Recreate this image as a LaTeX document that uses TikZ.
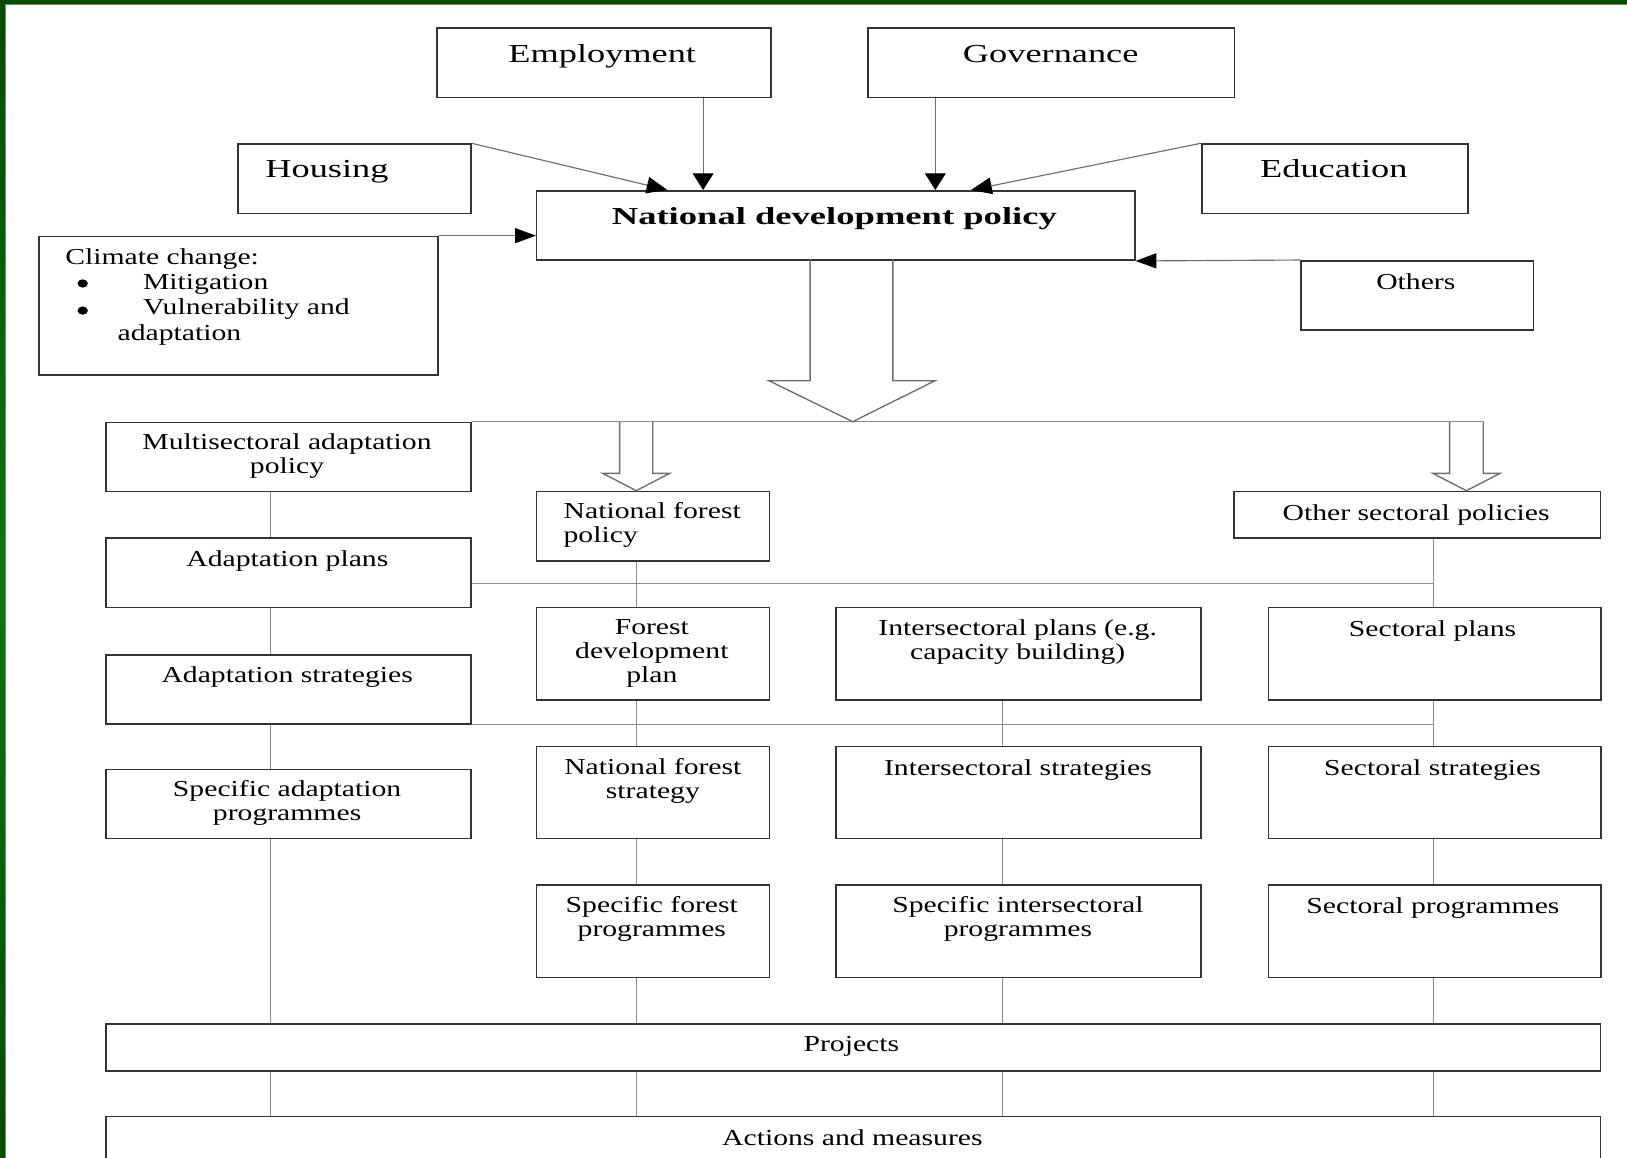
\documentclass[tikz,border=0pt]{standalone}
\usepackage{fontspec}
\setmainfont{Liberation Serif}
\newfontfamily\normf{Liberation Serif}[FakeStretch=1.3]
\newfontfamily\bigf{Liberation Serif}[FakeStretch=1.4]
\newfontfamily\ndpf{Liberation Serif}[FakeStretch=1.5]
\usetikzlibrary{arrows.meta}
\definecolor{boxc}{HTML}{333333}
\definecolor{connc}{HTML}{8C8C8C}
\definecolor{arrc}{HTML}{6E6E6E}
\definecolor{gdark}{HTML}{004D00}
\definecolor{gmid}{HTML}{0A7A0A}
\begin{document}
\begin{tikzpicture}[x=1pt,y=-1pt,
  box/.style={draw=boxc, line width=1.6pt, inner sep=0pt, anchor=north west, fill=white},
  txt/.style={inner sep=0pt, anchor=north, align=center, text=black,
    font=\normf\fontsize{22}{23.5}\selectfont, execute at begin node=\strut},
  bigtxt/.style={txt, font=\bigf\fontsize{25}{27}\selectfont},
  ndptxt/.style={txt, font=\ndpf\bfseries\fontsize{23.5}{25}\selectfont},
  bulletdot/.style={fill=black},
  conn/.style={draw=connc, line width=1.4pt},
  hollow/.style={draw=arrc, line width=1.3pt, line join=miter},
  arrV/.style={draw=arrc, line width=1.1pt, -{Triangle[length=16pt,width=20pt,color=black]}},
  arrD/.style={draw=arrc, line width=1.1pt, -{Triangle[length=20pt,width=16pt,color=black]}},
  arrH/.style={draw=arrc, line width=1.1pt, -{Triangle[length=20pt,width=14.5pt,color=black]}}
]
\useasboundingbox (0,0) rectangle (1568,1116);
\clip (0,0) rectangle (1568,1116);
\fill[white] (0,0) rectangle (1568,1116);
% frame
\fill[gdark] (0,0) rectangle (1568,4);
\shade[top color=gdark, bottom color=gdark, middle color=gmid] (0,0) rectangle (5,1116);
\draw[gray, line width=0.8pt] (5.5,1116) -- (5.5,4.5) -- (1568,4.5);

% boxes and texts
\node[box, minimum width=321.6pt, minimum height=66.9pt] (emp) at (420.5,26.3) {};
\node[bigtxt] (emp-t) at (580.4,41.2) {Employment};
\node[box, minimum width=353.4pt, minimum height=66.9pt] (gov) at (835.6,26.3) {};
\node[bigtxt] (gov-t) at (1012.6,41.2) {Governance};
\node[box, minimum width=224.3pt, minimum height=66.9pt] (hous) at (228.7,138.1) {};
\node[bigtxt] (hous-t) at (315.1,152) {Housing};
\node[box, minimum width=256.9pt, minimum height=66.9pt] (edu) at (1157.3,138.1) {};
\node[bigtxt] (edu-t) at (1285.4,152) {Education};
\node[box, minimum width=576.4pt, minimum height=66.8pt] (ndp) at (516.4,183.1) {};
\node[ndptxt] (ndp-t) at (804.1,198.5) {National development policy};
\node[box, minimum width=384.3pt, minimum height=133.7pt] (clim) at (36.9,227.1) {};
\node[txt, anchor=north west, align=left, font=\normf\fontsize{22}{24.3}\selectfont] (clim-t) at (62.7,239.5)
  {Climate change:\\\hspace*{75pt}Mitigation\\\hspace*{75pt}Vulnerability and\\\hspace*{50.5pt}adaptation};
\fill[bulletdot] (79.7,273.2) ellipse [x radius=5pt, y radius=4pt];
\fill[bulletdot] (79.7,299.3) ellipse [x radius=5pt, y radius=4pt];
\node[box, minimum width=224.2pt, minimum height=66.5pt] (oth) at (1252.9,250.6) {};
\node[txt] (oth-t) at (1364.5,262.45) {Others};

\node[box, minimum width=351.6pt, minimum height=66.5pt] (msp) at (101.4,406.4) {};
\node[txt] (msp-t) at (276.6,417.25) {Multisectoral adaptation\\policy};
\node[box, minimum width=224.5pt, minimum height=66.8pt] (nfp) at (516.4,472.9) {};
\node[txt, anchor=north west, align=left] (nfp-t) at (543,484.05) {National forest\\policy};
\node[box, minimum width=353.1pt, minimum height=45pt] (osp) at (1188.7,472.9) {};
\node[txt] (osp-t) at (1364.8,485.35) {Other sectoral policies};
\node[box, minimum width=351.6pt, minimum height=66.8pt] (adp) at (101.4,517.9) {};
\node[txt] (adp-t) at (277,529.65) {Adaptation plans};
\node[box, minimum width=224.5pt, minimum height=89pt] (fdp) at (516.4,584.7) {};
\node[txt] (fdp-t) at (628.2,596.55) {Forest\\development\\plan};
\node[box, minimum width=352.2pt, minimum height=89pt] (ip) at (804.6,584.7) {};
\node[txt] (ip-t) at (980.8,596.55) {Intersectoral plans (e.g.\\capacity building)};
\node[box, minimum width=320.2pt, minimum height=89pt] (sp) at (1221.8,584.7) {};
\node[txt] (sp-t) at (1380.6,596.55) {Sectoral plans};
\node[box, minimum width=351.6pt, minimum height=66.5pt] (ads) at (101.4,630.3) {};
\node[txt] (ads-t) at (276.8,641.55) {Adaptation strategies};
\node[box, minimum width=224.5pt, minimum height=88.6pt] (nfs) at (516.4,718.7) {};
\node[txt] (nfs-t) at (629.2,730.45) {National forest\\strategy};
\node[box, minimum width=352.2pt, minimum height=88.6pt] (is) at (804.6,718.7) {};
\node[txt] (is-t) at (981,730.45) {Intersectoral strategies};
\node[box, minimum width=320.2pt, minimum height=88.6pt] (ss) at (1221.8,718.7) {};
\node[txt] (ss-t) at (1380.6,730.45) {Sectoral strategies};
\node[box, minimum width=351.6pt, minimum height=66.5pt] (sap) at (101.4,740.8) {};
\node[txt] (sap-t) at (276.7,751.95) {Specific adaptation\\programmes};
\node[box, minimum width=224.5pt, minimum height=89pt] (sfp) at (516.4,852.3) {};
\node[txt] (sfp-t) at (628.2,863.75) {Specific forest\\programmes};
\node[box, minimum width=352.2pt, minimum height=89pt] (sip) at (804.6,852.3) {};
\node[txt] (sip-t) at (981,863.75) {Specific intersectoral\\programmes};
\node[box, minimum width=320.2pt, minimum height=89pt] (spr) at (1221.8,852.3) {};
\node[txt] (spr-t) at (1381,863.75) {Sectoral programmes};
\node[box, minimum width=1440.4pt, minimum height=44.9pt] (proj) at (101.4,986.3) {};
\node[txt] (proj-t) at (820.5,997.15) {Projects};
\node[box, minimum width=1440.4pt, minimum height=70pt] (act) at (101.4,1075.3) {};
\node[txt] (act-t) at (821.5,1087.05) {Actions and measures};

% column coordinates
\coordinate (cL) at (260.8,0);
\coordinate (cF) at (613.2,0);
\coordinate (cI) at (965.9,0);
\coordinate (cS) at (1381.4,0);
\coordinate (h1) at (0,562.2);
\coordinate (rsR) at (1429.4,406.4);

% vertical connectors
\draw[conn] (msp.south -| cL) -- (adp.north -| cL);
\draw[conn] (adp.south -| cL) -- (ads.north -| cL);
\draw[conn] (ads.south -| cL) -- (sap.north -| cL);
\draw[conn] (sap.south -| cL) -- (proj.north -| cL);
\draw[conn] (proj.south -| cL) -- (act.north -| cL);
\draw[conn] (nfp.south -| cF) -- (fdp.north -| cF);
\draw[conn] (fdp.south -| cF) -- (nfs.north -| cF);
\draw[conn] (nfs.south -| cF) -- (sfp.north -| cF);
\draw[conn] (sfp.south -| cF) -- (proj.north -| cF);
\draw[conn] (proj.south -| cF) -- (act.north -| cF);
\draw[conn] (ip.south -| cI) -- (is.north -| cI);
\draw[conn] (is.south -| cI) -- (sip.north -| cI);
\draw[conn] (sip.south -| cI) -- (proj.north -| cI);
\draw[conn] (proj.south -| cI) -- (act.north -| cI);
\draw[conn] (osp.south -| cS) -- (sp.north -| cS);
\draw[conn] (sp.south -| cS) -- (ss.north -| cS);
\draw[conn] (ss.south -| cS) -- (spr.north -| cS);
\draw[conn] (spr.south -| cS) -- (proj.north -| cS);
\draw[conn] (proj.south -| cS) -- (act.north -| cS);
% horizontal connectors
\draw[conn] (adp.east |- h1) -- (cS |- h1);
\draw[conn] (ads.south east) -- (cS |- ads.south east);
\draw[conn] (msp.north east) -- (rsR);

% hollow arrows
\draw[hollow] (780.7,249.9) -- (780.7,366.9) -- (741,366.9) -- (821.8,406.4) -- (901,366.9) -- (860.5,366.9) -- (860.5,249.9);
\draw[hollow] (597.1,406.4) -- (597.1,456.2) -- (580.9,456.2) -- (613.2,472.9) -- (645.3,456.2) -- (629,456.2) -- (629,406.4);
\draw[hollow] (1397,406.4) -- (1397,456.2) -- (1380.9,456.2) -- (1413.2,472.9) -- (1445.6,456.2) -- (1429.4,456.2) -- (rsR);

% input arrows
\coordinate (xE) at (677.6,0);
\coordinate (xG) at (901.4,0);
\coordinate (xH) at (643.2,0);
\coordinate (xD) at (935.8,0);
\draw[arrV] (emp.south -| xE) -- (ndp.north -| xE);
\draw[arrV] (gov.south -| xG) -- (ndp.north -| xG);
\draw[arrD] (hous.north east) -- (ndp.north -| xH);
\draw[arrD] (edu.north west) -- (ndp.north -| xD);
\draw[arrH] (clim.north east) -- (ndp.west |- clim.north east);
\draw[arrH] (oth.north west) -- (ndp.south east);
\end{tikzpicture}
\end{document}
